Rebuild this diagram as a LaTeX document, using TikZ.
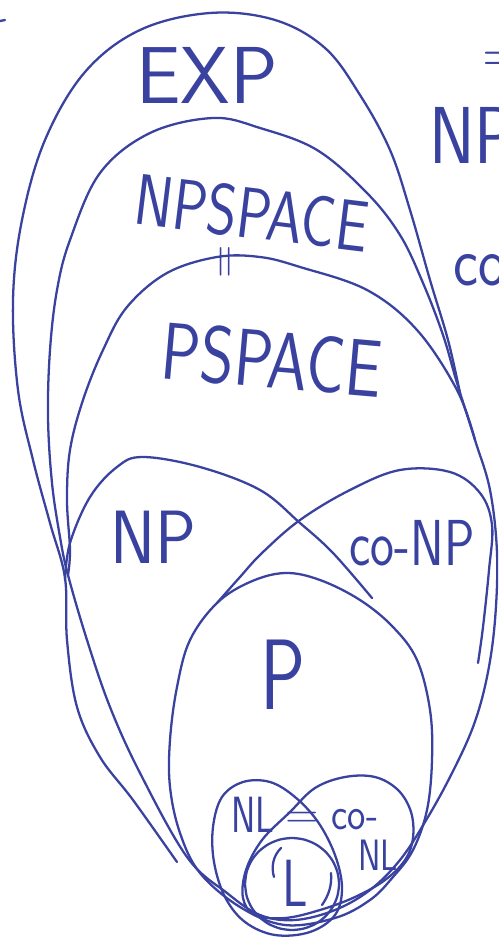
\documentclass[tikz,border=0pt]{standalone}
\usepackage{amssymb}
\usepackage{graphicx}

\definecolor{ink}{RGB}{58,66,160}
\tikzset{
  pen/.style={draw=ink,line width=1.3pt,line cap=round,line join=round},
  cls/.style={text=ink,inner sep=0pt,font=\sffamily},
}
\newcommand{\handtext}[3]{\fontsize{#1}{#1}\selectfont\scalebox{#2}[1]{#3}}

\begin{document}
\begin{tikzpicture}[x=0.02cm,y=-0.02cm]
\clip (0,0) rectangle (498,942);

%EXP
\draw[pen] plot[smooth,tension=0.6] coordinates {(177,862) (133,800) (100,757) (77,707) (67,640) (65,578) (50,523) (33,460) (18,390) (13,300) (22,220) (45,140) (85,72) (140,30) (210,13) (275,20) (325,48) (360,95) (390,150) (410,210) (430,280) (448,340) (460,393)};
%NPSPACE
\draw[pen] plot[smooth cycle,tension=0.6] coordinates {(213,118) (260,128) (317,150) (367,193) (400,235) (423,283) (443,335) (457,383) (475,440) (490,490) (497,553) (495,620) (487,677) (473,727) (450,777) (425,822) (400,860) (370,890) (335,910) (295,920) (260,915) (227,893) (187,857) (140,773) (110,707) (87,640) (68,575) (60,537) (52,483) (48,417) (50,350) (57,290) (70,240) (100,173) (150,133)};
%PSPACE
\draw[pen] plot[smooth,tension=0.6] coordinates {(68,575) (70,550) (67,500) (70,450) (83,400) (103,350) (127,307) (167,273) (217,257) (260,257) (300,267) (367,290) (417,330) (457,390) (475,440)};
%NP, co-NP
\draw[pen] plot[smooth,tension=0.6] coordinates {(65,580) (70,543) (90,497) (117,467) (143,457) (200,467) (260,490) (300,523) (333,553) (372,598)};
\draw[pen] plot[smooth,tension=0.6] coordinates {(217,603) (240,577) (262,553) (300,520) (350,490) (400,470) (450,472) (480,493) (492,525) (489,570) (483,627) (478,663)};
%P
\draw[pen] plot[smooth cycle,tension=0.6] coordinates {(217,603) (190,640) (177,687) (170,740) (170,787) (180,833) (200,873) (240,907) (285,925) (335,918) (370,900) (393,877) (413,850) (427,810) (432,760) (430,710) (417,660) (393,627) (360,600) (320,580) (285,573) (250,582)};
%NL, co-NL, L
\draw[pen] plot[smooth cycle,tension=0.6] coordinates {(213,827) (222,797) (243,782) (270,782) (295,797) (318,822) (335,855) (342,888) (335,915) (310,932) (275,935) (245,922) (225,897) (214,862)};
\draw[pen] plot[smooth cycle,tension=0.6] coordinates {(290,812) (315,788) (345,777) (375,777) (398,790) (411,812) (413,838) (405,860) (385,880) (355,897) (320,910) (285,918) (255,915) (243,898) (246,870) (262,840)};
\draw[pen,domain=-180:180,smooth,variable=\t] plot ({47*cos(\t)+292},{46*sin(\t)+884});
\draw[pen] (281,848) .. controls (273,856) and (271,867) .. (274,877);
\draw[pen] (331,873) .. controls (332,885) and (329,895) .. (322,905);

\draw[pen] (0,21) -- (5,20);

\node[cls] (exp) at (207,75) {\handtext{46}{0.98}{EXP}};
\node[cls,rotate=-7] (npspace) at (252,213) {\handtext{41}{0.8}{NPSPACE}};
\node[cls,rotate=90] (eqspace) at (228,262) {\handtext{26}{1}{=}};
\node[cls,rotate=-5] (pspace) at (272,360) {\handtext{46}{0.8}{PSPACE}};
\node[cls] (np) at (153,537) {\handtext{43}{0.9}{NP}};
\node[cls] (conp) at (412,543) {\handtext{37}{0.78}{co-NP}};
\node[cls] (p) at (283,675) {\handtext{57}{0.75}{P}};
\node[cls] (nl) at (253,815) {\handtext{29}{0.72}{NL}};
\node[cls] (nleq) at (302,820) {\handtext{26}{1}{=}};
\node[cls] (coline) at (355,820) {\handtext{26}{0.85}{co-}};
\node[cls] (conl) at (378,855) {\handtext{25}{0.77}{NL}};
\node[cls] (l) at (295,883) {\handtext{38}{0.75}{L}};

\node[cls,anchor=west] (dotq) at (482,58) {\handtext{30}{1}{$\doteqdot$}};
\node[cls,anchor=west] (npright) at (429,135) {\handtext{46}{0.85}{NP}};
\node[cls,anchor=west] (coright) at (453,270) {\handtext{40}{0.85}{co}};
\end{tikzpicture}
\end{document}
